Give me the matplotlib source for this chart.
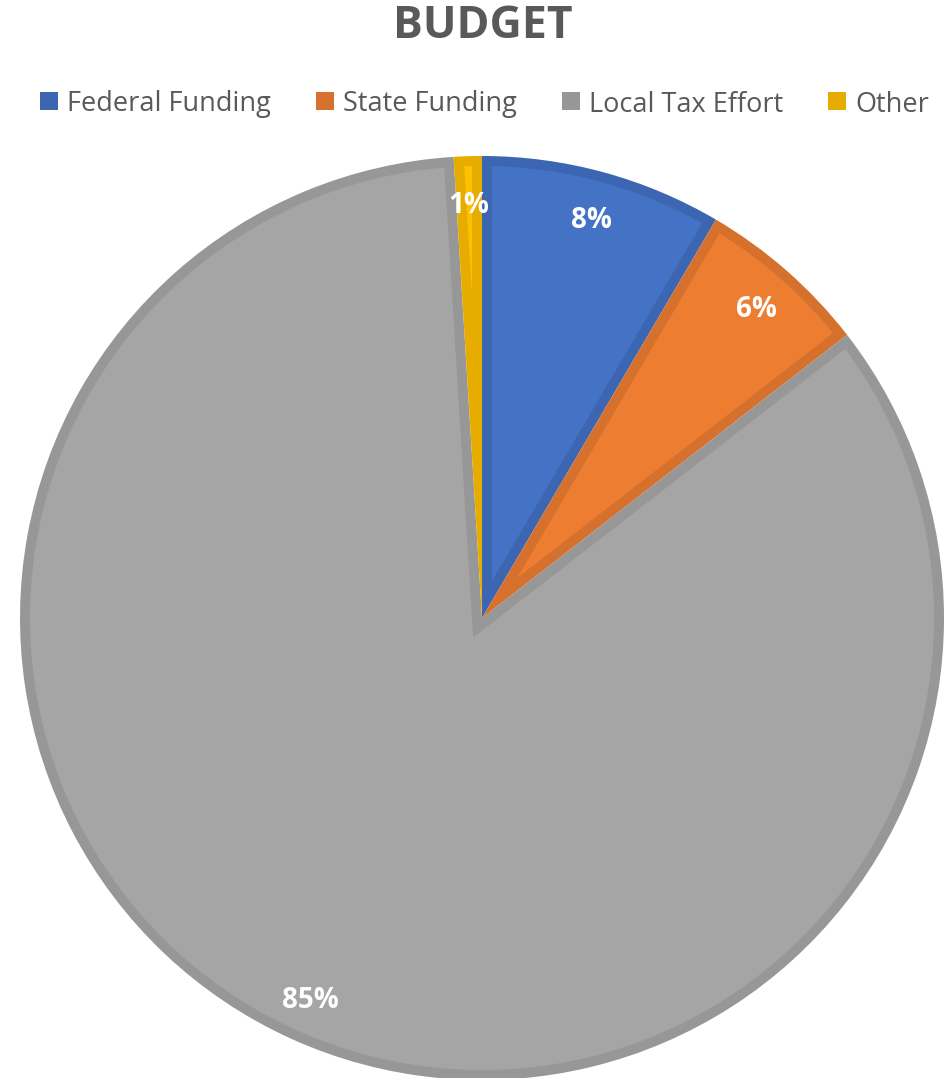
import matplotlib
matplotlib.use("Agg")
import numpy as np
import matplotlib.pyplot as plt
from matplotlib.patches import Rectangle, Polygon

# ---- data ----
categories = ["Federal Funding", "State Funding", "Local Tax Effort", "Other"]
shares = [8.45, 6.05, 84.52, 0.98]
title = "BUDGET"

# ---- style ----
fill_colors = ["#4472C4", "#ED7D31", "#A5A5A5", "#FFC000"]
edge_colors = ["#3C66B2", "#D5712C", "#979797", "#E6AD00"]
text_gray = "#595959"
FONT = "Open Sans"

W, H = 950, 1078
fig = plt.figure(figsize=(W / 100, H / 100), dpi=100)
ax = fig.add_axes([0, 0, 1, 1])

cx, cy, R = 482, H - 618, 462
BORDER = 10  # inner border width (px == data units here)

wedges, texts, autotexts = ax.pie(
    shares,
    colors=edge_colors,
    startangle=90,
    counterclock=False,
    center=(cx, cy),
    radius=R,
    autopct=lambda p: f"{int(p + 0.5)}%",
    pctdistance=0.9,
    labeldistance=None,
    wedgeprops=dict(linewidth=0),
    textprops=dict(color="white", fontsize=20, fontweight="bold", family=FONT),
)


def inset_polygon(w, t):
    c = np.array(w.center, dtype=float)
    r_out = w.r
    t1, t2 = np.radians(w.theta1), np.radians(w.theta2)
    half = (t2 - t1) / 2
    b = t1 + half
    u = np.array([np.cos(b), np.sin(b)])
    d = t / np.sin(half)
    P = c + d * u
    r = r_out - t
    q = P - c

    def hit(theta):
        e = np.array([np.cos(theta), np.sin(theta)])
        qe = q @ e
        s = -qe + np.sqrt(max(qe * qe - q @ q + r * r, 0))
        pt = P + s * e
        ang = np.arctan2(pt[1] - c[1], pt[0] - c[0])
        ang = theta + (ang - theta + np.pi) % (2 * np.pi) - np.pi
        return ang

    a1, a2 = hit(t1), hit(t2)
    arc = np.linspace(a1, a2, 400)
    pts = [P] + [c + r * np.array([np.cos(a), np.sin(a)]) for a in arc] + [P]
    return np.array(pts)


for w, fc in zip(wedges, fill_colors):
    ax.add_patch(Polygon(inset_polygon(w, BORDER), closed=True,
                         facecolor=fc, edgecolor="none", zorder=1.5))

for t in autotexts:
    t.set_va("center_baseline")
    t.set_zorder(5)

ax.set_xlim(0, W)
ax.set_ylim(0, H)
ax.set_aspect("equal")
ax.axis("off")

# title
fig.text(483 / W, 1 - 26 / H, title, ha="center", va="center",
         fontsize=32, fontweight="bold", color=text_gray, family=FONT)

# legend (manual)
marker_x = [40, 316, 562, 828]
leg_y = 101
for xm, lab, ec in zip(marker_x, categories, edge_colors):
    fig.patches.append(Rectangle((xm / W, 1 - (leg_y + 9) / H), 18 / W, 18 / H,
                                 transform=fig.transFigure, facecolor=ec,
                                 edgecolor="none"))
    fig.text((xm + 27) / W, 1 - leg_y / H, lab, ha="left", va="center_baseline",
             fontsize=19.5, color=text_gray, family=FONT)

fig.savefig("out.png", dpi=100)
